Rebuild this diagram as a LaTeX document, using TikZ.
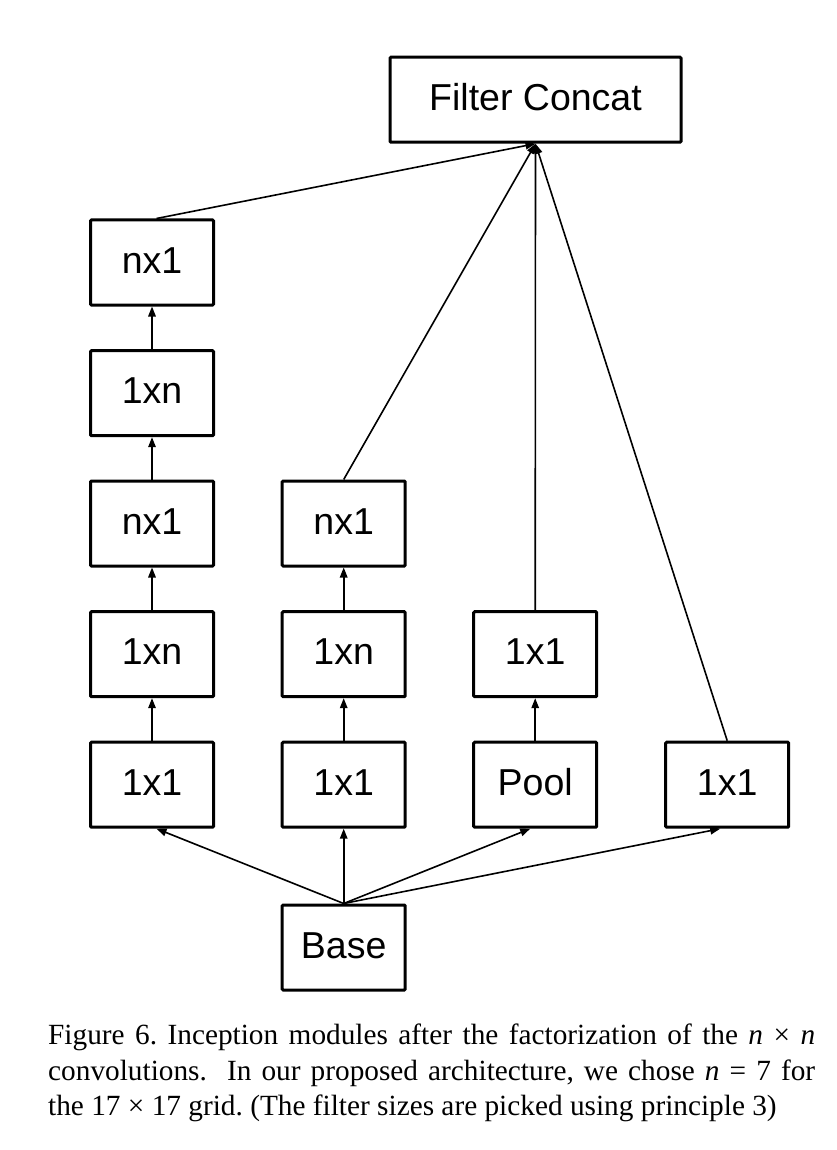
\documentclass[tikz,border=0pt]{standalone}
\usepackage{fontspec}
\setmainfont{Liberation Serif}
\newfontfamily\boxfont{Liberation Sans}
\usetikzlibrary{arrows.meta}

\begin{document}
\begin{tikzpicture}[x=1pt,y=1pt,yscale=-1,xscale=1,
  layer/.style={draw, line width=3pt, rounded corners=1pt, minimum width=123pt, minimum height=85pt, inner sep=0pt, text height=27pt, text depth=6pt, font=\boxfont\fontsize{37.5}{40}\selectfont},
  flow/.style={line width=1.6pt, -{Triangle[length=10pt,width=7.5pt]}},
  capline/.style={anchor=base west, inner sep=0pt, font=\fontsize{29.3}{35.7}\selectfont\frenchspacing}]
%set diagram size: 837 x 1150
\useasboundingbox (0,0) rectangle (837,1150);

%Shape: Rectangle [concat]
\node [layer, minimum width=291pt] (concat) at (535.5,99.7) {Filter Concat};
%Shape: Rectangle [first branch]
\node [layer] (b1a) at (152,784.7) {1x1};
\node [layer] (b1b) at (152,654.2) {1xn};
\node [layer] (b1c) at (152,523.5) {nx1};
\node [layer] (b1d) at (152,393.2) {1xn};
\node [layer] (b1e) at (152,262.5) {nx1};
%Shape: Rectangle [second branch]
\node [layer] (b2a) at (343.7,784.7) {1x1};
\node [layer] (b2b) at (343.7,654.2) {1xn};
\node [layer] (b2c) at (343.7,523.5) {nx1};
%Shape: Rectangle [pool branch]
\node [layer] (pool) at (535.2,784.7) {Pool};
\node [layer] (b3a) at (535.2,654.2) {1x1};
%Shape: Rectangle [last branch]
\node [layer] (b4a) at (727.2,784.7) {1x1};
%Shape: Rectangle [base]
\node [layer] (base) at (343.7,947.5) {Base};

%Straight Lines [base to branches]
\draw [flow] (base.north) -- ([xshift=4.5pt]b1a.south);
\draw [flow] (base.north) -- (b2a.south);
\draw [flow] (base.north) -- ([xshift=-5pt]pool.south);
\draw [flow] (base.north) -- ([xshift=-7pt]b4a.south);
%Straight Lines [inside branches]
\foreach \lo/\hi in {b1a/b1b, b1b/b1c, b1c/b1d, b1d/b1e, b2a/b2b, b2b/b2c, pool/b3a}
  \draw [flow] (\lo) -- (\hi);
%Straight Lines [branches to concat]
\draw [flow] ([xshift=4.5pt]b1e.north) -- (concat.south);
\draw [flow] (b2c.north) -- (concat.south);
\draw [flow] (b3a.north) -- (concat.south);
\draw [flow] (b4a.north) -- (concat.south);

% Text Node
\node [capline] (cap1) at (48,1044.3) {\makebox[767pt][s]{Figure 6. Inception modules after the factorization of the \textit{n} × \textit{n}}};
% Text Node
\node [capline] (cap2) at (48,1080) {\makebox[767pt][s]{convolutions.\ \ In our proposed architecture, we chose \textit{n} = 7 for}};
% Text Node
\node [capline] (cap3) at (48,1115.7) {the 17 × 17 grid. (The filter sizes are picked using principle 3)};

\end{tikzpicture}
\end{document}
